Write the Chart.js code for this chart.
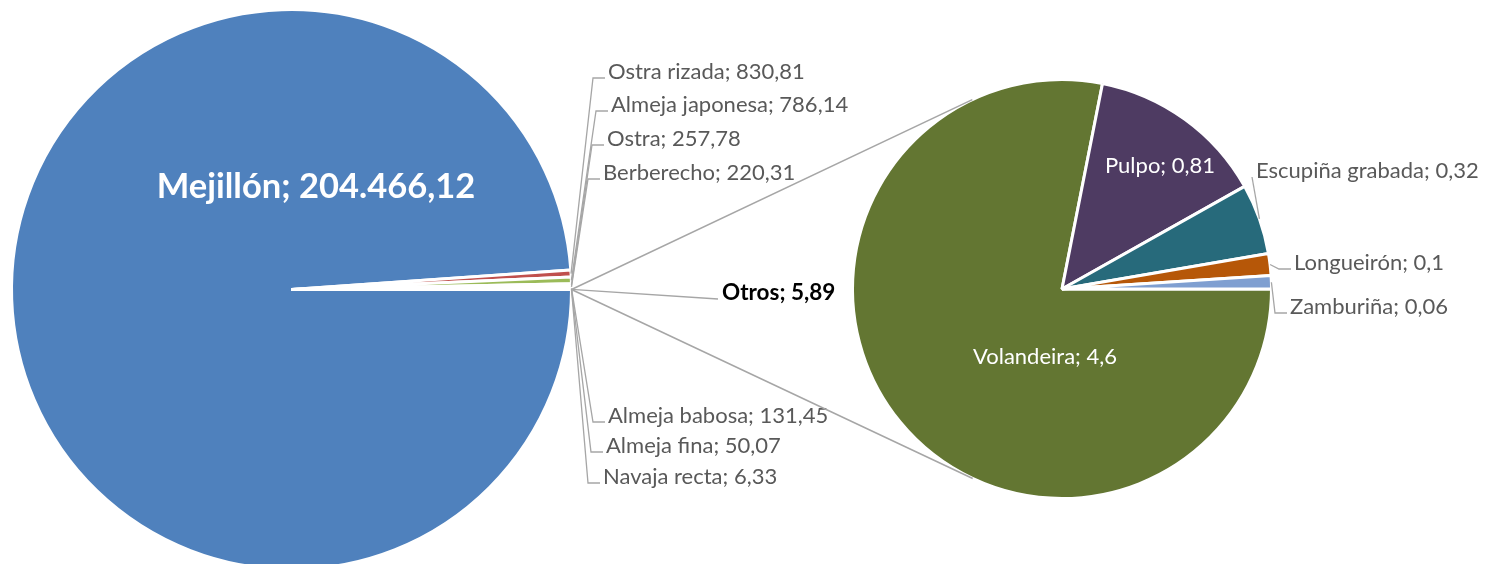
<!DOCTYPE html>
<html><head><meta charset="utf-8">
<script src="https://cdn.jsdelivr.net/npm/chart.js@4.4.1/dist/chart.umd.min.js"></script>
<style>
body{margin:0;background:#fff;overflow:hidden;width:1485px;height:564px;position:relative;}
.layer{position:absolute;left:0;top:0;}
</style></head><body>
<canvas id="bigPie" class="layer" width="1485" height="574"></canvas>
<canvas id="smallPie" class="layer" width="1485" height="574"></canvas>
<script>
// main pie
const bigLabels = ['Mejillón','Ostra rizada','Almeja japonesa','Ostra','Berberecho','Almeja babosa','Almeja fina','Navaja recta','Otros'];
const bigValues = [204466.12, 830.81, 786.14, 257.78, 220.31, 131.45, 50.07, 6.33, 5.89];
const bigColors = ['#4F81BD','#C0504D','#9BBB59','#8064A2','#4BACC6','#F79646','#2C4D75','#772C2A','#FFFFFF'];

// secondary pie (breakdown of "Otros")
const smallLabels = ['Volandeira','Pulpo','Escupiña grabada','Longueirón','Zamburiña'];
const smallValues = [4.6, 0.81, 0.32, 0.1, 0.06];
const smallColors = ['#637632','#4E3B62','#276A7B','#B65708','#7F9FD1'];

// label layout (text anchor points, leader style)
const bigLabelPos = [
  {x:316, y:187, inside:true, font:'bold 34.5px Lato'},
  {x:608, y:72,  leader:'elbow'},
  {x:611, y:105, leader:'elbow'},
  {x:607, y:139, leader:'elbow'},
  {x:603, y:173, leader:'elbow'},
  {x:608, y:416, leader:'elbow'},
  {x:606, y:446, leader:'elbow'},
  {x:603, y:477, leader:'elbow'},
  {x:722, y:293, leader:'straight', font:'bold 22.5px Lato', color:'#000000'}
];
const smallLabelPos = [
  {x:1045, y:357, inside:true},
  {x:1160, y:166, inside:true},
  {x:1256, y:171, leader:'straight'},
  {x:1294, y:263, leader:'elbow'},
  {x:1290, y:307, leader:'elbow'}
];

const LINE = '#A6A6A6';
const TEXT = '#595959';

function fmt(v){
  const parts = String(v).split('.');
  return parts[0].replace(/\B(?=(\d{3})+(?!\d))/g,'.') + (parts[1] ? ','+parts[1] : '');
}

function edgePoint(arc, frac){
  const p = arc.getProps(['x','y','startAngle','endAngle','outerRadius'], true);
  const a = p.startAngle + (p.endAngle - p.startAngle)*frac;
  return {x:p.x + Math.cos(a)*p.outerRadius, y:p.y + Math.sin(a)*p.outerRadius};
}

function drawLabels(chart, labels, values, layout){
  const ctx = chart.ctx;
  const arcs = chart.getDatasetMeta(0).data;
  ctx.save();
  ctx.textBaseline = 'middle';
  arcs.forEach((arc,i)=>{
    const pos = layout[i];
    const text = labels[i] + '; ' + fmt(values[i]);
    if(pos.leader){
      const s = edgePoint(arc, 0.5);
      ctx.strokeStyle = LINE; ctx.lineWidth = 1.3;
      ctx.beginPath(); ctx.moveTo(s.x, s.y);
      if(pos.leader==='elbow'){
        ctx.lineTo(pos.x-15, pos.y+6);
        ctx.lineTo(pos.x-3, pos.y+6);
      } else {
        ctx.lineTo(pos.x-4, pos.y+6);
      }
      ctx.stroke();
    }
    ctx.font = pos.font || '22px Lato';
    ctx.fillStyle = pos.color || (pos.inside ? '#FFFFFF' : TEXT);
    ctx.textAlign = pos.inside ? 'center' : 'left';
    ctx.fillText(text, pos.x, pos.y);
  });
  ctx.restore();
}

const commonOpts = {
  responsive:false, animation:false, events:[], rotation:90,
  plugins:{legend:{display:false}, tooltip:{enabled:false}},
};

const bigChart = new Chart(document.getElementById('bigPie'), {
  type:'pie',
  data:{labels:bigLabels, datasets:[{data:bigValues, backgroundColor:bigColors, borderColor:'#FFFFFF', borderWidth:3}]},
  options:{...commonOpts, layout:{padding:{left:10, right:912, top:8, bottom:3}}},
  plugins:[{id:'bigLabels', afterDraw(c){ drawLabels(c, bigLabels, bigValues, bigLabelPos); }}]
});

const smallChart = new Chart(document.getElementById('smallPie'), {
  type:'pie',
  data:{labels:smallLabels, datasets:[{data:smallValues, backgroundColor:smallColors, borderColor:'#FFFFFF', borderWidth:3}]},
  options:{...commonOpts, layout:{padding:{left:851, right:212, top:78, bottom:74}}},
  plugins:[{id:'connectors', afterDraw(c){
    // lines from the "Otros" slice to the tangents of the secondary pie
    const otros = bigChart.getDatasetMeta(0).data[bigLabels.length-1];
    const p1 = edgePoint(otros, 0), p2 = edgePoint(otros, 1);
    const first = c.getDatasetMeta(0).data[0].getProps(['x','y','outerRadius'], true);
    const px = (p1.x+p2.x)/2, py = (p1.y+p2.y)/2;
    const d = Math.hypot(px-first.x, py-first.y);
    const phi = Math.atan2(py-first.y, px-first.x);
    const t = Math.acos(first.outerRadius/d);
    const up = {x:first.x+Math.cos(phi+t)*first.outerRadius, y:first.y+Math.sin(phi+t)*first.outerRadius};
    const dn = {x:first.x+Math.cos(phi-t)*first.outerRadius, y:first.y+Math.sin(phi-t)*first.outerRadius};
    const top = up.y < dn.y ? up : dn, bot = up.y < dn.y ? dn : up;
    const ctx = c.ctx;
    ctx.save();
    ctx.strokeStyle = LINE; ctx.lineWidth = 1.5;
    ctx.beginPath();
    ctx.moveTo(Math.min(p1.x,p2.x), Math.min(p1.y,p2.y)); ctx.lineTo(top.x, top.y);
    ctx.moveTo(Math.max(p1.x,p2.x), Math.max(p1.y,p2.y)); ctx.lineTo(bot.x, bot.y);
    ctx.stroke();
    ctx.restore();
    drawLabels(c, smallLabels, smallValues, smallLabelPos);
  }}]
});
</script>
</body></html>
